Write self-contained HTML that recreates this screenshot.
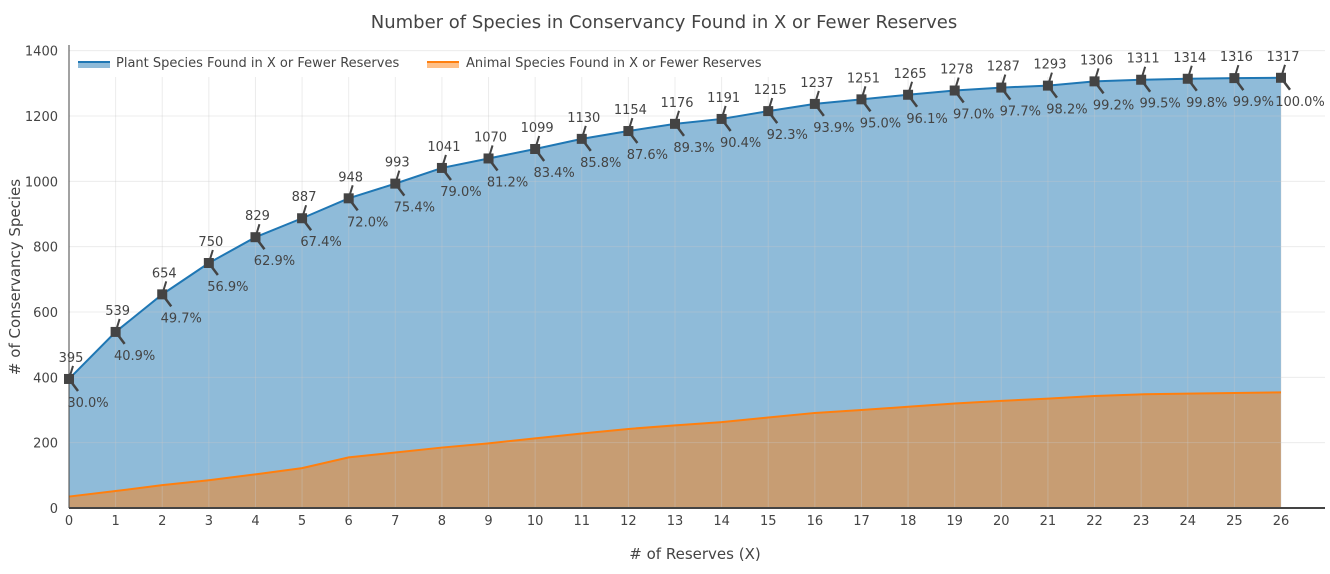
<!DOCTYPE html>
<html><head><meta charset="utf-8"><style>
body{margin:0;background:#fff;font-family:"Liberation Sans","DejaVu Sans",sans-serif}
svg text{font-family:"DejaVu Sans","Liberation Sans",sans-serif;fill:#444}
</style></head><body>
<svg id="c" width="1330" height="569"></svg>
<script>
const categories=[0,1,2,3,4,5,6,7,8,9,10,11,12,13,14,15,16,17,18,19,20,21,22,23,24,25,26];
const plantValues=[395,539,654,750,829,887,948,993,1041,1070,1099,1130,1154,1176,1191,1215,1237,1251,1265,1278,1287,1293,1306,1311,1314,1316,1317];
const plantPct=["30.0%","40.9%","49.7%","56.9%","62.9%","67.4%","72.0%","75.4%","79.0%","81.2%","83.4%","85.8%","87.6%","89.3%","90.4%","92.3%","93.9%","95.0%","96.1%","97.0%","97.7%","98.2%","99.2%","99.5%","99.8%","99.9%","100.0%"];
const animalValues=[35,52,70,85,103,122,155,170,185,198,213,228,242,253,263,277,291,300,310,320,328,335,343,348,350,352,354];
const yTicks=[0,200,400,600,800,1000,1200,1400];

const NS="http://www.w3.org/2000/svg";
const svg=document.getElementById('c');
const L=69,R=1325,X26=1281,Y0=508,T=45;
const xs=v=>L+(X26-L)*v/26;
const ys=v=>Y0-v*(392/1200);
function mk(tag,attrs,parent){const e=document.createElementNS(NS,tag);for(const k in attrs)e.setAttribute(k,attrs[k]);(parent||svg).appendChild(e);return e;}
function tx(x,y,s,size,anchor){const t=mk('text',{x:x,y:y,'font-size':size,'text-anchor':anchor||'middle'});t.textContent=s;return t;}

// fills
let pp=`M${xs(0)},${Y0} `+categories.map((c,i)=>`L${xs(c)},${ys(plantValues[i])}`).join(' ')+` L${xs(26)},${Y0}Z`;
const pf=mk('path',{d:pp,fill:'rgba(31,119,180,0.5)'});


let ap=`M${xs(0)},${Y0} `+categories.map((c,i)=>`L${xs(c)},${ys(animalValues[i])}`).join(' ')+` L${xs(26)},${Y0}Z`;
const af=mk('path',{d:ap,fill:'rgba(255,127,14,0.5)'});



// grid
yTicks.forEach(v=>{
  if(v>0){const g=mk('line',{x1:L,x2:R,y1:ys(v),y2:ys(v),stroke:'rgba(200,200,200,0.35)','stroke-width':1});
  
  }
  const t=tx(L-11,ys(v)+5,v,13,'end');
  
  
});
categories.forEach(c=>{
  if(c>0){const g=mk('line',{x1:xs(c),x2:xs(c),y1:T+32,y2:Y0,stroke:'rgba(200,200,200,0.35)','stroke-width':1});
  
  }
  const t=tx(xs(c),Y0+17,c,13);
  
  
});

// lines
const pl=mk('polyline',{points:categories.map((c,i)=>xs(c)+','+ys(plantValues[i])).join(' '),fill:'none',stroke:'#1f77b4','stroke-width':2});


const al=mk('polyline',{points:categories.map((c,i)=>xs(c)+','+ys(animalValues[i])).join(' '),fill:'none',stroke:'#ff7f0e','stroke-width':2});



// axes
const ax=mk('line',{x1:L,x2:L,y1:T,y2:Y0,stroke:'#444','stroke-width':1});


const bx=mk('line',{x1:L,x2:R,y1:Y0,y2:Y0,stroke:'#444','stroke-width':2});



// annotations
categories.forEach((c,i)=>{
  const x=xs(c),y=ys(plantValues[i]);
  const a1=mk('line',{x1:x,y1:y,x2:x+4,y2:y-13,stroke:'#444','stroke-width':2});
  
  
  const a2=mk('line',{x1:x,y1:y,x2:x+9,y2:y+12,stroke:'#444','stroke-width':2.5});
  
  
  const m=mk('rect',{x:x-5,y:y-5,width:10,height:10,fill:'#444'});
  
  
  const t1=tx(x+2,y-17,plantValues[i],13);
  
  
  const t2=tx(x+19,y+28,plantPct[i],13);
  
  
});

// legend
const lg=mk('g',{});


const e1=mk('g',{},lg);


mk('rect',{x:78,y:61,width:32,height:7,fill:'rgba(31,119,180,0.5)'},e1);
mk('line',{x1:78,x2:110,y1:62,y2:62,stroke:'#1f77b4','stroke-width':2},e1);
const l1=mk('text',{x:116,y:67,'font-size':13},e1);l1.textContent='Plant Species Found in X or Fewer Reserves';
const e2=mk('g',{},lg);


mk('rect',{x:427,y:61,width:32,height:7,fill:'rgba(255,127,14,0.5)'},e2);
mk('line',{x1:427,x2:459,y1:62,y2:62,stroke:'#ff7f0e','stroke-width':2},e2);
const l2=mk('text',{x:466,y:67,'font-size':13},e2);l2.textContent='Animal Species Found in X or Fewer Reserves';

// titles
const tt=tx(664,28,'Number of Species in Conservancy Found in X or Fewer Reserves',18);


const xt=tx(695,559,'# of Reserves (X)',15);


const yt=tx(0,0,'# of Conservancy Species',15);
yt.setAttribute('transform','translate(20,277) rotate(-90)');


</script>
</body></html>
